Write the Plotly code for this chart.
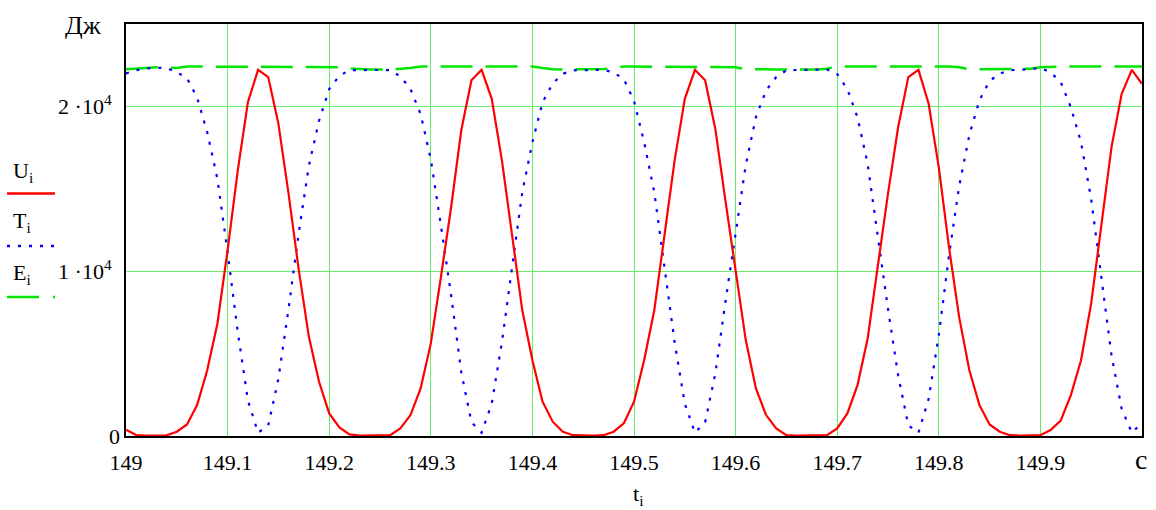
import numpy as np
import plotly.graph_objects as go

# Sample times, s (step 0.01 s)
t = np.round(np.linspace(149.0, 150.0, 101), 2)

# Potential energy U_i, J
U = [380, 60, 30, 30, 40, 260, 700, 1880, 4000, 6830,
     11270, 16100, 20260, 22220, 21780, 18950, 14710, 10100, 6020, 3290,
     1370, 525, 100, 30, 30, 30, 50, 460, 1270, 2890,
     5620, 9660, 13880, 18550, 21580, 22220, 20460, 16730, 12180, 7640,
     4600, 2080, 870, 260, 50, 30, 30, 50, 260, 770,
     2080, 4600, 7640, 12180, 16730, 20460, 22220, 21580, 18650, 14280,
     10060, 5820, 2890, 1270, 460, 50, 30, 30, 30, 50,
     460, 1370, 3090, 5920, 10320, 14710, 18750, 21780, 22220, 20160,
     16300, 11470, 7230, 4000, 1880, 700, 260, 50, 30, 30,
     50, 360, 930, 2480, 4600, 8050, 12660, 17530, 20770, 22220,
     21370]

# Kinetic energy T_i, J
T = [22000, 22200, 22300, 22350, 22330, 22070, 21720, 20540, 18420, 15590,
     11150, 6320, 2160, 200, 640, 3470, 7710, 12320, 16400, 19130,
     21050, 21855, 22200, 22220, 22210, 22210, 22200, 21820, 21060, 19530,
     16800, 12760, 8540, 3870, 840, 200, 1960, 5690, 10240, 14780,
     17820, 20250, 21390, 21980, 22190, 22210, 22220, 22220, 22060, 21650,
     20340, 17820, 14780, 10240, 5690, 1960, 200, 840, 3770, 8140,
     12320, 16440, 19350, 20970, 21780, 22190, 22210, 22210, 22210, 22240,
     21960, 21050, 19330, 16500, 12100, 7710, 3670, 640, 200, 2260,
     6120, 10950, 15140, 18250, 20370, 21550, 21990, 22200, 22220, 22260,
     22330, 22060, 21490, 19940, 17820, 14370, 9760, 4890, 1650, 200,
     800]

# Total energy E_i, J
E = [22250, 22270, 22330, 22380, 22370, 22330, 22420, 22420, 22420, 22420,
     22420, 22420, 22420, 22420, 22420, 22420, 22420, 22420, 22420, 22420,
     22420, 22380, 22300, 22250, 22240, 22240, 22250, 22280, 22330, 22420,
     22420, 22420, 22420, 22420, 22420, 22420, 22420, 22420, 22420, 22420,
     22420, 22330, 22260, 22240, 22240, 22240, 22250, 22270, 22320, 22420,
     22420, 22420, 22420, 22420, 22420, 22420, 22420, 22420, 22420, 22420,
     22380, 22260, 22240, 22240, 22240, 22240, 22240, 22240, 22240, 22290,
     22420, 22420, 22420, 22420, 22420, 22420, 22420, 22420, 22420, 22420,
     22420, 22420, 22370, 22250, 22250, 22250, 22250, 22250, 22250, 22290,
     22380, 22420, 22420, 22420, 22420, 22420, 22420, 22420, 22420, 22420,
     22420]

x_ticks = [149, 149.1, 149.2, 149.3, 149.4, 149.5, 149.6, 149.7, 149.8, 149.9]
x_tick_text = ["149", "149.1", "149.2", "149.3", "149.4", "149.5",
               "149.6", "149.7", "149.8", "149.9"]
y_ticks = [0, 10000, 20000]
# the zero label sits closer to the axis, so it is placed separately
y_tick_text = ["", "1 ·10<sup>4</sup>", "2 ·10<sup>4</sup>"]

W, H = 1156, 510
ML, MR, MT, MB = 126, 14, 24, 74
PW, PH = W - ML - MR, H - MT - MB

SERIF = "Liberation Serif"
RED, BLUE, GREEN = "#ff0000", "#0000ff", "#00e600"
GRID = "#66ee66"


def px(x):
    return (x - ML) / PW


def py(y):
    return (H - MB - y) / PH


fig = go.Figure()
fig.add_trace(go.Scatter(x=t, y=E, mode="lines",
                         line=dict(color=GREEN, width=2.5, dash="32px,13px")))
fig.add_trace(go.Scatter(x=t, y=T, mode="lines",
                         line=dict(color=BLUE, width=2.2, dash="3px,8px")))
fig.add_trace(go.Scatter(x=t, y=U, mode="lines",
                         line=dict(color=RED, width=2.2)))

# Left-hand series key: name above a line sample
key = [("U<sub>i</sub>", RED, "solid", 172, 193.5),
       ("T<sub>i</sub>", BLUE, "3px,8px", 222, 246),
       ("E<sub>i</sub>", GREEN, "32px,14px", 274, 297)]
annotations = []
shapes = []
for name, col, dash, ty, ly in key:
    annotations.append(dict(x=px(11), y=py(ty), xref="paper", yref="paper",
                            text=name, showarrow=False, xanchor="left",
                            yanchor="middle",
                            font=dict(family=SERIF, size=22, color="black")))
    shapes.append(dict(type="line", xref="paper", yref="paper",
                       x0=px(7), x1=px(55), y0=py(ly), y1=py(ly),
                       line=dict(color=col, width=2.5, dash=dash)))

annotations += [
    dict(x=0, y=py(436), xref="paper", yref="paper", text="0",
         showarrow=False, xanchor="right", yanchor="middle", xshift=-4,
         font=dict(family=SERIF, size=22, color="black")),
    dict(x=px(83), y=py(25), xref="paper", yref="paper", text="Дж",
         showarrow=False, xanchor="center", yanchor="middle",
         font=dict(family=SERIF, size=26, color="black")),
    dict(x=px(1141), y=py(459), xref="paper", yref="paper", text="с",
         showarrow=False, xanchor="center", yanchor="middle",
         font=dict(family=SERIF, size=28, color="black")),
    dict(x=px(638), y=py(495), xref="paper", yref="paper",
         text="t<sub>i</sub>", showarrow=False, xanchor="center",
         yanchor="middle", font=dict(family=SERIF, size=22, color="black")),
]

fig.update_layout(
    width=W, height=H,
    margin=dict(l=ML, r=MR, t=MT, b=MB, pad=0),
    paper_bgcolor="white", plot_bgcolor="white",
    showlegend=False,
    font=dict(family=SERIF, size=22, color="black"),
    annotations=annotations, shapes=shapes,
)
fig.update_xaxes(range=[149, 150], tickvals=x_ticks, ticktext=x_tick_text,
                 showgrid=True, gridcolor=GRID, gridwidth=1,
                 zeroline=False, showline=True, linecolor="black",
                 linewidth=2, mirror=True, ticks="", ticklabelstandoff=6,
                 tickfont=dict(family=SERIF, size=22, color="black"))
fig.update_yaxes(range=[0, 25000], tickvals=y_ticks, ticktext=y_tick_text,
                 showgrid=True, gridcolor=GRID, gridwidth=1,
                 zeroline=False, showline=True, linecolor="black",
                 linewidth=2, mirror=True, ticks="", ticklabelstandoff=8,
                 tickfont=dict(family=SERIF, size=22, color="black"))

fig.write_html("out.html")
